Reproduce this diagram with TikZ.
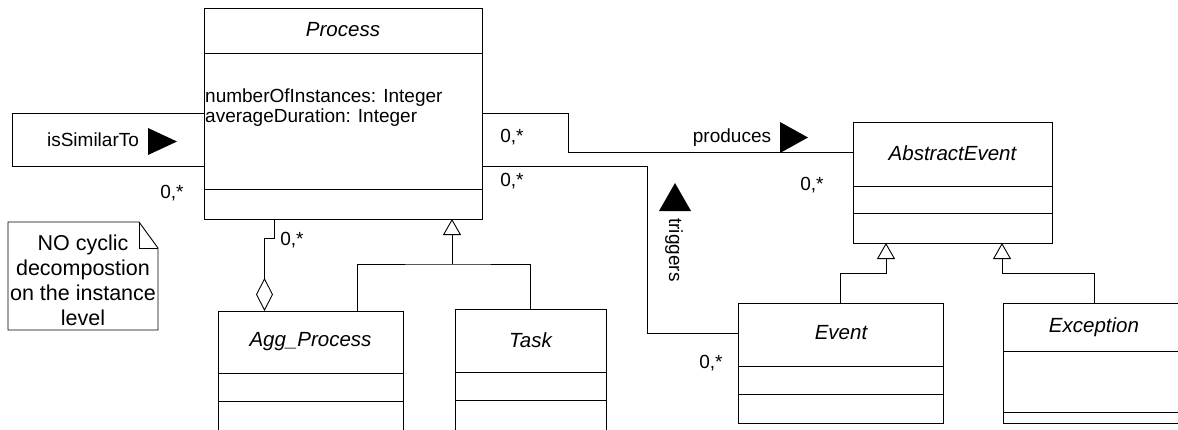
\documentclass[tikz,border=0pt]{standalone}
\usepackage{fontspec}
\setmainfont{Liberation Sans}
\usetikzlibrary{arrows.meta,calc}
\tikzset{
  umlClass/.style={draw,line width=.9pt,anchor=north west,inner sep=0pt,outer sep=0pt},
  umlTitle/.style={font=\fontsize{20.5}{22}\selectfont\itshape,inner sep=0pt},
  umlAttr/.style={font=\fontsize{19}{20}\selectfont,align=left,inner sep=0pt,anchor=west},
  umlLabel/.style={font=\fontsize{19}{21}\selectfont,inner sep=0pt},
  umlMult/.style={umlLabel},
  umlNote/.style={font=\fontsize{21.5}{25}\selectfont,align=center,inner sep=0pt},
  umlLine/.style={line width=.9pt},
  genArrow/.style={umlLine,-{Triangle[open,length=16pt,width=18pt]}},
  aggArrow/.style={umlLine,{Diamond[open,length=33pt,width=17pt]}-},
}
\begin{document}
\begin{tikzpicture}[x=1pt,y=-1pt]
\clip (0,0) rectangle (1178,429);
% classes
\node[umlClass,minimum width=278pt,minimum height=211pt] (proc)  at (204,8)    {};
\node[umlClass,minimum width=185pt,minimum height=122pt] (agg)   at (218,311)  {};
\node[umlClass,minimum width=151pt,minimum height=124pt] (task)  at (455,309)  {};
\node[umlClass,minimum width=199pt,minimum height=121pt] (absev) at (853,122)  {};
\node[umlClass,minimum width=205pt,minimum height=120pt] (event) at (738,303)  {};
\node[umlClass,minimum width=182pt,minimum height=120pt] (exc)   at (1003,303) {};

% compartments
\draw[umlLine] (204,53) -- (482,53) (204,189) -- (482,189);
\draw[umlLine] (218,373) -- (403,373) (218,401) -- (403,401);
\draw[umlLine] (455,372) -- (606,372) (455,400) -- (606,400);
\draw[umlLine] (853,186) -- (1052,186) (853,213) -- (1052,213);
\draw[umlLine] (738,366) -- (943,366) (738,394) -- (943,394);
\draw[umlLine] (1003,351) -- (1185,351) (1003,412) -- (1185,412);

\node[umlTitle] (procT)  at (343,30)   {Process};
\node[umlTitle] (aggT)   at (310.5,342) {Agg\_Process};
\node[umlTitle] (taskT)  at (530.5,340) {Task};
\node[umlTitle] (absevT) at (952.5,153) {AbstractEvent};
\node[umlTitle] (eventT) at (841,333)  {Event};
\node[umlTitle] (excT)   at (1094,327) {Exception};
\node[umlAttr]  (procA)  at (205,108)  {numberOfInstances: Integer\\averageDuration: Integer};

% note
\draw[umlLine] (8,222) -- (139,222) -- (158,248) -- (158,330) -- (8,330) -- cycle;
\draw[umlLine] (139,222) -- (139,248) -- (158,248);
\node[umlNote] (note) at (83,280) {NO cyclic\\decompostion\\on the instance\\level};

% isSimilarTo
\draw[umlLine] (proc.west) -- ++(-192,0) -- ++(0,53) -- ([yshift=-53pt]proc.west);
\node[umlLabel] (simL) at (93,140) {isSimilarTo};
\fill (148,128) -- (177,141.5) -- (148,155) -- cycle;
\node[umlMult] (simM) at (172,193) {0,*};

% produces
\draw[umlLine] (proc.east) -- ++(86,0) |- ([yshift=30pt]absev.west);
\node[umlLabel] (prodL) at (732,138) {produces};
\fill (780,122) -- (808,137.5) -- (780,153) -- cycle;
\node[umlMult] (prodM1) at (512,137) {0,*};
\node[umlMult] (prodM2) at (812,185) {0,*};

% triggers
\draw[umlLine] ([yshift=-53pt]proc.east) -- ++(165,0) |- ([yshift=30pt]event.west);
\node[umlLabel,rotate=-90] (trigL) at (674,250) {triggers};
\fill (659,211) -- (675,183) -- (691,211) -- cycle;
\node[umlMult] (trigM1) at (512,181) {0,*};
\node[umlMult] (trigM2) at (711,363) {0,*};

% aggregation
\draw[aggArrow] ([xshift=-46pt]agg.north) -- ++(0,-73) -| ([xshift=-69pt]proc.south);
\node[umlMult] (aggM) at (292,240) {0,*};

% generalisation
\coordinate (gProc) at (452,264);
\draw[genArrow] (gProc) -- (gProc |- proc.south);
\draw[umlLine] ([xshift=46.5pt]agg.north) |- (gProc) -| (task.north);
\draw[genArrow] (event.north) -- ++(0,-30) -| ([xshift=-66.5pt]absev.south);
\draw[genArrow] (exc.north) -- ++(0,-30) -| ([xshift=49.5pt]absev.south);
\end{tikzpicture}
\end{document}
